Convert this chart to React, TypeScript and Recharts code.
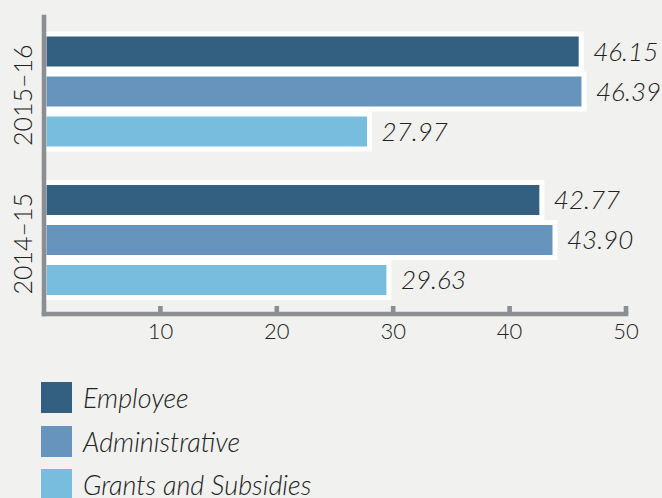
import React from 'react';
import { BarChart, Bar, XAxis, YAxis, LabelList } from 'recharts';

const categories = ['2015–16', '2014–15'];
const employee = [46.15, 42.77];
const administrative = [46.39, 43.9];
const grants = [27.97, 29.63];
const xTicks = [10, 20, 30, 40, 50];

const seriesNames = ['Employee', 'Administrative', 'Grants and Subsidies'];
const seriesKeys = ['employee', 'administrative', 'grants'];
const seriesColors = ['#335f80', '#6694bc', '#78bddd'];

const data = categories.map((year, i) => ({
  year,
  employee: employee[i],
  administrative: administrative[i],
  grants: grants[i],
}));

const AXIS = '#8b8f93';
const BG = '#f1f1ef';
const TEXT = '#222';
const FONT = 'Lato, "Open Sans", sans-serif';

const XTick = (props: any) => {
  const { x, y, payload } = props;
  return (
    <g>
      <rect x={x - 2.3} y={y - 8} width={4.6} height={8} fill={AXIS} />
      <text x={x} y={y + 24.5} textAnchor="middle" fill={TEXT} fontSize={22} fontWeight={300} fontFamily={FONT}>
        {payload.value}
      </text>
    </g>
  );
};

const YTick = (props: any) => {
  const { y, payload } = props;
  return (
    <text
      transform={`translate(32, ${y + 4}) rotate(-90)`}
      textAnchor="middle"
      fill={TEXT}
      fontSize={25}
      fontWeight={300}
      fontFamily={FONT}
    >
      {payload.value}
    </text>
  );
};

export default function App() {
  return (
    <div style={{ position: 'fixed', left: 0, top: 0, width: 662, height: 498, background: BG, overflow: 'hidden', fontFamily: FONT }}>
      <BarChart
        width={662}
        height={350}
        data={data}
        layout="vertical"
        margin={{ top: 17, right: 36, bottom: 0, left: 0 }}
        barSize={35}
        barGap={5}
      >
        {seriesKeys.map((k, i) => (
          <Bar key={k} dataKey={k} fill={seriesColors[i]} stroke="#ffffff" strokeWidth={5} isAnimationActive={false}>
            <LabelList
              dataKey={k}
              position="right"
              offset={12}
              formatter={(v: any) => Number(v).toFixed(2)}
              style={{ fontSize: 26, fontStyle: 'italic', fontWeight: 300, fill: TEXT, fontFamily: FONT }}
            />
          </Bar>
        ))}
        <XAxis
          type="number"
          domain={[0, 50]}
          ticks={xTicks}
          height={36}
          tickSize={0}
          tickMargin={0}
          tickLine={false}
          axisLine={{ stroke: AXIS, strokeWidth: 4.6, strokeLinecap: 'square' }}
          tick={<XTick />}
          interval={0}
        />
        <YAxis
          type="category"
          dataKey="year"
          width={44}
          tickLine={false}
          axisLine={{ stroke: AXIS, strokeWidth: 4.6, strokeLinecap: 'square' }}
          tick={<YTick />}
        />
      </BarChart>
      <div style={{ position: 'absolute', left: 41, top: 382 }}>
        {seriesNames.map((n, i) => (
          <div key={n} style={{ display: 'flex', alignItems: 'center', height: 31, marginBottom: 12.5 }}>
            <div style={{ width: 31, height: 31, background: seriesColors[i], flex: 'none' }} />
            <span style={{ marginLeft: 11, fontSize: 27, fontStyle: 'italic', fontWeight: 300, color: TEXT, whiteSpace: 'nowrap', lineHeight: '31px' }}>
              {n}
            </span>
          </div>
        ))}
      </div>
    </div>
  );
}
